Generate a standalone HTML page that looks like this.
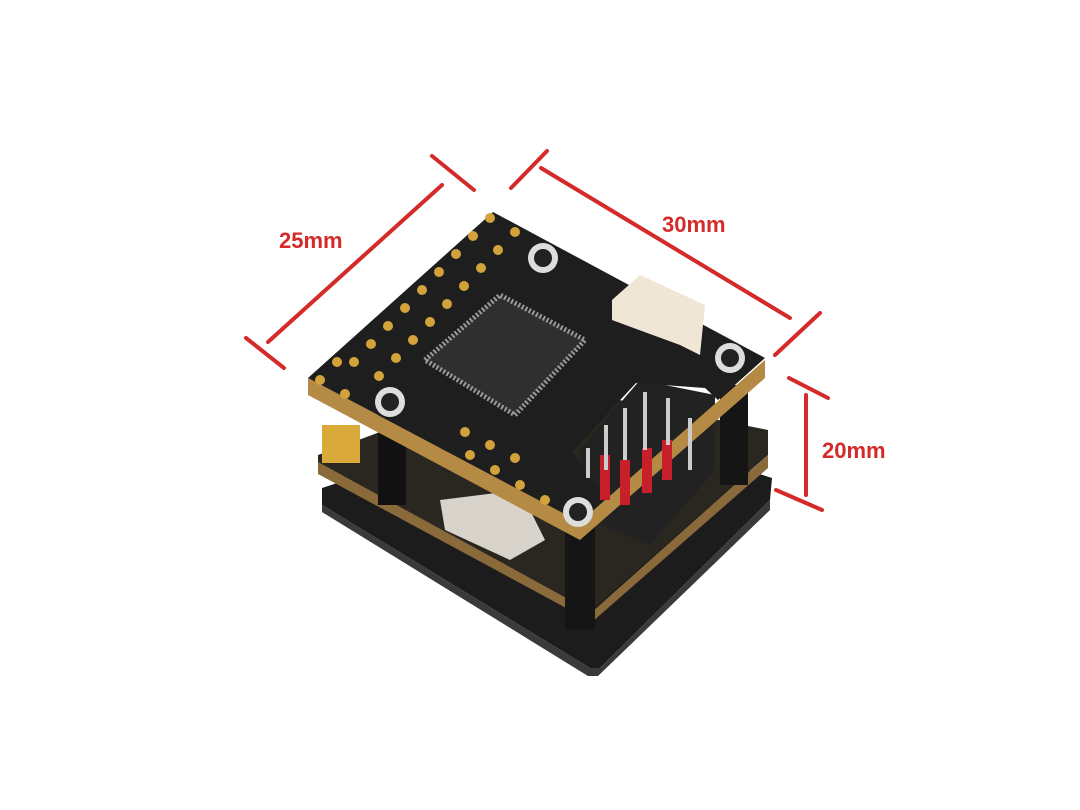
<!DOCTYPE html>
<html><head><meta charset="utf-8"><style>
html,body{margin:0;padding:0;background:#fff;width:1080px;height:810px;overflow:hidden}
</style></head><body>
<svg width="1080" height="810" viewBox="0 0 1080 810" xmlns="http://www.w3.org/2000/svg">
<rect width="1080" height="810" fill="#fff"/>
<!-- bottom plate -->
<polygon points="322,488 560,410 772,478 770,500 600,668 590,668 322,505" fill="#1c1c1c"/>
<polygon points="322,505 590,668 600,668 770,500 770,510 598,676 588,676 322,512" fill="#3a3a3a"/>
<!-- middle board -->
<polygon points="318,455 520,380 768,430 768,455 592,610 318,470" fill="#2a2620"/>
<polygon points="318,462 592,612 768,455 768,468 592,622 318,474" fill="#8a6a3a"/>
<!-- standoffs -->
<rect x="378" y="395" width="28" height="110" fill="#111"/>
<rect x="565" y="520" width="30" height="110" fill="#151515"/>
<rect x="720" y="385" width="28" height="100" fill="#151515"/>
<!-- white box component -->
<polygon points="440,500 520,490 545,540 510,560 445,530" fill="#d8d4cc"/>
<!-- gold pad -->
<rect x="322" y="425" width="38" height="38" fill="#d9a93a"/>
<!-- pin header area -->
<polygon points="580,450 640,380 715,395 715,470 650,545 590,520" fill="#222"/>
<!-- top board edge -->
<polygon points="308,378 580,522 765,360 765,378 580,540 308,395" fill="#b58a45"/>
<!-- top board with cutout -->
<polygon points="493,212 765,358 718,400 705,388 636,383 572,452 606,498 580,522 308,378" fill="#1e1e1e"/>
<!-- pins -->
<g fill="#c8202a">
<rect x="600" y="455" width="10" height="45"/><rect x="620" y="460" width="10" height="45"/><rect x="642" y="448" width="10" height="45"/><rect x="662" y="440" width="10" height="40"/>
</g>
<g stroke="#ccc" stroke-width="4">
<line x1="588" y1="448" x2="588" y2="478"/><line x1="606" y1="425" x2="606" y2="470"/><line x1="625" y1="408" x2="625" y2="460"/><line x1="645" y1="392" x2="645" y2="450"/><line x1="668" y1="398" x2="668" y2="445"/><line x1="690" y1="418" x2="690" y2="470"/>
</g>
<!-- chip -->
<polygon points="425,360 500,295 585,340 515,415" fill="#2f2f2f" stroke="#9a9a9a" stroke-width="5" stroke-dasharray="2 2"/>
<!-- connector -->
<polygon points="612,300 640,275 705,305 700,355 680,345 612,320" fill="#efe6d6"/>
<!-- screws -->
<g fill="#ddd"><circle cx="543" cy="258" r="15"/><circle cx="730" cy="358" r="15"/><circle cx="390" cy="402" r="15"/><circle cx="578" cy="512" r="15"/></g>
<g fill="#222"><circle cx="543" cy="258" r="9"/><circle cx="730" cy="358" r="9"/><circle cx="390" cy="402" r="9"/><circle cx="578" cy="512" r="9"/></g>
<!-- gold pads -->
<g fill="#d4a23a">
<circle cx="490" cy="218" r="5"/><circle cx="515" cy="232" r="5"/><circle cx="473" cy="236" r="5"/><circle cx="498" cy="250" r="5"/>
<circle cx="456" cy="254" r="5"/><circle cx="481" cy="268" r="5"/><circle cx="439" cy="272" r="5"/><circle cx="464" cy="286" r="5"/>
<circle cx="422" cy="290" r="5"/><circle cx="447" cy="304" r="5"/><circle cx="405" cy="308" r="5"/><circle cx="430" cy="322" r="5"/>
<circle cx="388" cy="326" r="5"/><circle cx="413" cy="340" r="5"/><circle cx="371" cy="344" r="5"/><circle cx="396" cy="358" r="5"/>
<circle cx="354" cy="362" r="5"/><circle cx="379" cy="376" r="5"/><circle cx="337" cy="362" r="5"/><circle cx="320" cy="380" r="5"/><circle cx="345" cy="394" r="5"/>
<circle cx="465" cy="432" r="5"/><circle cx="490" cy="445" r="5"/><circle cx="515" cy="458" r="5"/><circle cx="470" cy="455" r="5"/><circle cx="495" cy="470" r="5"/><circle cx="520" cy="485" r="5"/><circle cx="545" cy="500" r="5"/>
</g>
<!-- dimension lines -->
<g stroke="#d42a2a" stroke-width="4" stroke-linecap="round">
<line x1="268" y1="342" x2="442" y2="185"/>
<line x1="246" y1="338" x2="284" y2="368"/>
<line x1="432" y1="156" x2="474" y2="190"/>
<line x1="541" y1="168" x2="790" y2="318"/>
<line x1="511" y1="188" x2="547" y2="151"/>
<line x1="775" y1="355" x2="820" y2="313"/>
<line x1="806" y1="395" x2="806" y2="495"/>
<line x1="789" y1="378" x2="828" y2="398"/>
<line x1="776" y1="490" x2="822" y2="510"/>
</g>
<g font-family="Liberation Sans, sans-serif" font-weight="bold" font-size="22" fill="#d42a2a">
<text x="279" y="248">25mm</text>
<text x="662" y="232">30mm</text>
<text x="822" y="458">20mm</text>
</g>
</svg>
</body></html>
